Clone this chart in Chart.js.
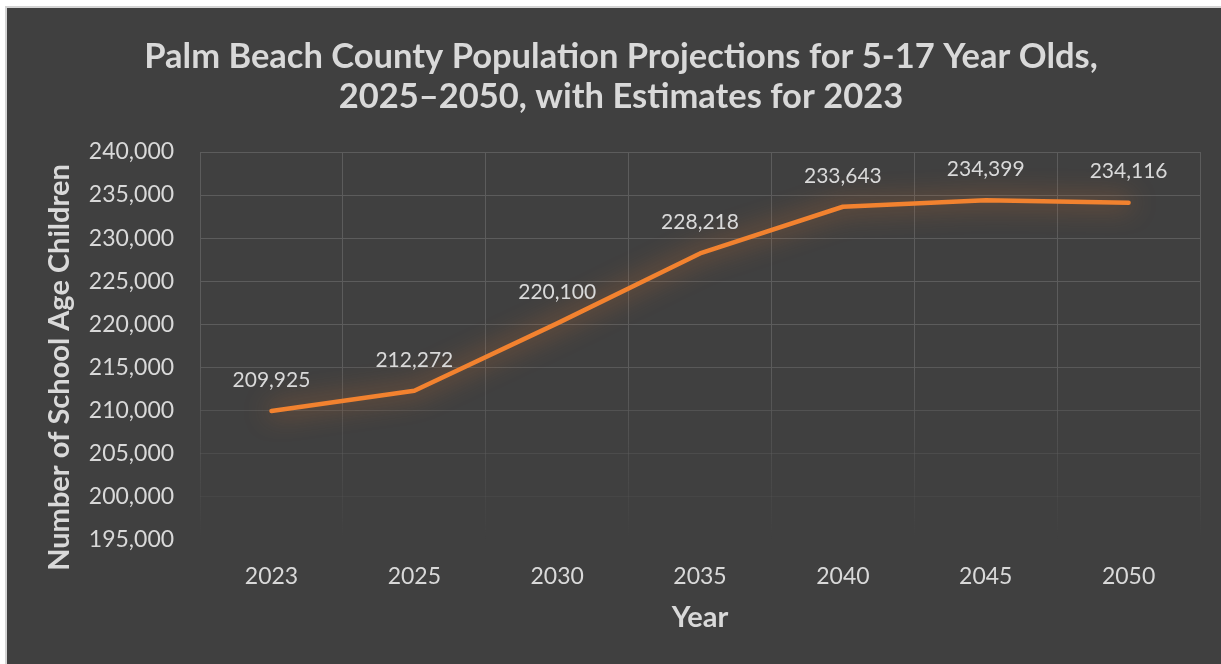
<!DOCTYPE html>
<html>
<head>
<meta charset="utf-8">
<script src="https://cdn.jsdelivr.net/npm/chart.js@4.4.1/dist/chart.umd.min.js"></script>
<style>
  html, body { margin: 0; padding: 0; background: #ffffff; width: 1221px; height: 664px; overflow: hidden; }
  #frame { position: absolute; left: 5px; top: 6px; width: 1220px; height: 664px; border-left: 2px solid #d4d4d4; border-top: 2px solid #d4d4d4; background: #404040; }
  #c { position: absolute; left: 7px; top: 8px; }
</style>
</head>
<body>
<div id="frame"></div>
<canvas id="c" width="1214" height="656"></canvas>
<script>
const years = ['2023', '2025', '2030', '2035', '2040', '2045', '2050'];
const children = [209925, 212272, 220100, 228218, 233643, 234399, 234116];
const yMin = 195000;
const yMax = 240000;
const yStep = 5000;
const titleLines = ['Palm Beach County Population Projections for 5-17 Year Olds,', '2025\u20132050, with Estimates for 2023'];
const yTitle = 'Number of School Age Children';
const xTitle = 'Year';

const textColor = '#d9d9d9';
const fontFam = 'Lato, "Open Sans", sans-serif';
const fmt = v => Number(v).toLocaleString('en-US');

function fadeAlpha(frac) { // frac 0 at top, 1 at bottom
  const a = (1 - frac) / 0.5;
  return Math.max(0, Math.min(1, a));
}

const glowPlugin = {
  id: 'glow',
  beforeDatasetDraw(chart) {
    const c = chart.ctx;
    c.save();
    c.shadowColor = 'rgba(240,125,45,0.8)';
    c.shadowBlur = 26;
  },
  afterDatasetDraw(chart) {
    chart.ctx.restore();
  }
};

const labelPlugin = {
  id: 'valueLabels',
  afterDatasetsDraw(chart) {
    const c = chart.ctx;
    const meta = chart.getDatasetMeta(0);
    c.save();
    c.font = '21px ' + fontFam;
    c.fillStyle = textColor;
    c.textAlign = 'center';
    c.textBaseline = 'middle';
    meta.data.forEach((p, i) => {
      c.fillText(fmt(children[i]), p.x, p.y - 31);
    });
    c.restore();
  }
};

new Chart(document.getElementById('c'), {
  type: 'line',
  data: {
    labels: years,
    datasets: [{
      data: children,
      borderColor: '#f2822f',
      borderWidth: 4.5,
      pointRadius: 0,
      pointHoverRadius: 0,
      tension: 0,
      borderCapStyle: 'round',
      borderJoinStyle: 'round',
      fill: false
    }]
  },
  options: {
    responsive: false,
    animation: false,
    events: [],
    layout: { padding: { left: 35, right: 21, top: 29, bottom: 29 } },
    plugins: {
      legend: { display: false },
      tooltip: { enabled: false },
      title: {
        display: true,
        text: titleLines,
        color: textColor,
        font: { family: fontFam, size: 34.5, weight: 'bold', lineHeight: 40 / 34.5 },
        padding: { top: 0, bottom: 35 }
      }
    },
    scales: {
      x: {
        offset: true,
        grid: {
          offset: true,
          drawTicks: true,
          tickLength: 23,
          tickColor: 'rgba(0,0,0,0)',
          lineWidth: 1,
          color: (ctx) => {
            const ch = ctx.chart;
            const a = ch.chartArea;
            if (!a) return 'rgba(92,92,92,1)';
            const g = ch.ctx.createLinearGradient(0, a.top, 0, a.bottom);
            g.addColorStop(0, 'rgba(92,92,92,1)');
            g.addColorStop(0.55, 'rgba(92,92,92,1)');
            g.addColorStop(1, 'rgba(92,92,92,0)');
            return g;
          }
        },
        border: { display: false },
        ticks: { color: textColor, font: { family: fontFam, size: 23 }, padding: 0 },
        title: {
          display: true, text: xTitle, color: textColor,
          font: { family: fontFam, size: 29, weight: 'bold' },
          padding: { top: 10, bottom: 0 }
        }
      },
      y: {
        min: yMin,
        max: yMax,
        grid: {
          drawTicks: true,
          tickLength: 26,
          tickColor: 'rgba(0,0,0,0)',
          lineWidth: 1,
          color: (ctx) => {
            const v = ctx.tick ? ctx.tick.value : yMax;
            const frac = (yMax - v) / (yMax - yMin);
            return 'rgba(92,92,92,' + fadeAlpha(frac).toFixed(3) + ')';
          }
        },
        border: { display: false },
        ticks: {
          stepSize: yStep,
          color: textColor,
          font: { family: fontFam, size: 23 },
          padding: 0,
          callback: (v) => fmt(v)
        },
        title: {
          display: true, text: yTitle + '\u2002\u2002\u2002', color: textColor,
          font: { family: fontFam, size: 29, weight: 'bold' },
          padding: { top: 0, bottom: 12 }
        }
      }
    }
  },
  plugins: [glowPlugin, labelPlugin]
});
</script>
</body>
</html>
